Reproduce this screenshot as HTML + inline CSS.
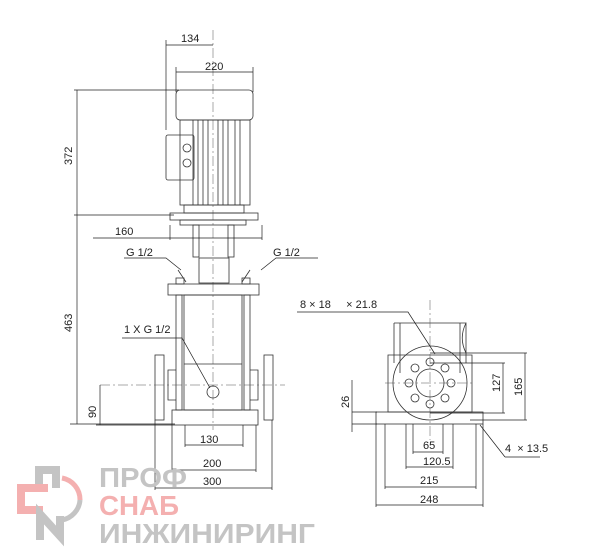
<!DOCTYPE html>
<html><head><meta charset="utf-8"><style>
html,body{margin:0;padding:0;background:#fff;width:600px;height:559px;overflow:hidden}
svg{display:block}
text{font-family:"Liberation Sans",sans-serif;font-size:11px;fill:#222}
.l{stroke:#333;stroke-width:0.8;fill:none}
.d{stroke:#222;stroke-width:0.7;fill:none}
.c{stroke:#555;stroke-width:0.5;stroke-dasharray:10 3 2 3;fill:none}
</style></head><body>
<svg width="600" height="559" viewBox="0 0 600 559">
<line class="c" x1="213" y1="30" x2="213" y2="430"/>
<rect class="l" x="176" y="90" width="77" height="30" rx="4"/>
<rect class="l" x="180" y="120" width="70" height="85"/>
<line class="l" x1="193" y1="120" x2="193" y2="205"/><line class="l" x1="240" y1="120" x2="240" y2="205"/>
<line class="l" x1="198" y1="120" x2="198" y2="205"/><line class="l" x1="203" y1="120" x2="203" y2="205"/>
<line class="l" x1="208" y1="120" x2="208" y2="205"/><line class="l" x1="218" y1="120" x2="218" y2="205"/>
<line class="l" x1="223" y1="120" x2="223" y2="205"/><line class="l" x1="228" y1="120" x2="228" y2="205"/>
<line class="l" x1="235" y1="120" x2="235" y2="205"/>
<rect class="l" x="166" y="135" width="28" height="45" rx="2"/>
<circle class="l" cx="187" cy="148" r="4"/><circle class="l" cx="187" cy="163" r="4"/>
<rect class="l" x="184" y="205" width="60" height="8"/>
<rect class="l" x="170" y="213" width="88" height="7"/>
<rect class="l" x="180" y="220" width="66" height="5"/>
<rect class="l" x="193" y="225" width="6" height="32"/><rect class="l" x="228" y="225" width="6" height="32"/>
<rect class="l" x="199" y="258" width="30" height="25"/>
<path class="l" d="M178 270l8 12M250 270l-8 12"/>
<rect class="l" x="176" y="278" width="8" height="6"/><rect class="l" x="242" y="278" width="8" height="6"/>
<rect class="l" x="168" y="284" width="91" height="11"/>
<rect class="l" x="176" y="295" width="6" height="115"/><rect class="l" x="244" y="295" width="6" height="115"/>
<rect class="l" x="184" y="295" width="58" height="115"/>
<line class="l" x1="184" y1="364" x2="242" y2="364"/>
<path class="l" d="M176 370h-8v30h8M250 370h8v30h-8"/>
<rect class="l" x="155" y="355" width="9" height="65"/><rect class="l" x="264" y="355" width="9" height="65"/>
<rect class="l" x="172" y="410" width="86" height="15"/>
<circle class="l" cx="213" cy="392" r="6"/>
<line class="c" x1="100" y1="385" x2="285" y2="385"/>
<path class="d" d="M166 45h47M166 40v90M176 72h77M176 67v25M253 67v25"/>
<text x="181" y="42">134</text><text x="205" y="70">220</text>
<path class="d" d="M77 90v334M74 90h105M74 215h100M70 424h105"/>
<text transform="translate(72 165) rotate(-90)">372</text>
<text transform="translate(72 332) rotate(-90)">463</text>
<path class="d" d="M93 238h169M170 225v15M262 225v15"/><text x="115" y="235">160</text>
<path class="d" d="M100 385v40M96 425h76"/><text transform="translate(96 418) rotate(-90)">90</text>
<text x="126" y="256">G 1/2</text><text x="273" y="256">G 1/2</text>
<path class="d" d="M124 258h42l15 12M318 258h-42l-15 12"/>
<text x="124" y="333">1 X G 1/2</text>
<path class="d" d="M122 338h60l28 50"/>
<path class="d" d="M185 425v22M243 425v22M172 425v47M256 425v47M155 420v70M272 420v70M185 445h58M172 470h84M155 488h117"/>
<text x="200" y="443">130</text><text x="203" y="467">200</text><text x="203" y="485">300</text>
<path class="l" d="M394 323h72c-5 10-5 20 0 30M394 323v40M466 323v40M400 323v50M460 323v50"/>
<line class="c" x1="430" y1="300" x2="430" y2="440"/>
<path class="l" d="M388 355h84v57h-84z"/>
<circle class="l" cx="430" cy="383" r="37"/>
<circle class="l" cx="430" cy="383" r="14"/>
<g class="l">
<circle cx="430" cy="362" r="4"/><circle cx="430" cy="404" r="4"/><circle cx="409" cy="383" r="4"/><circle cx="451" cy="383" r="4"/>
<circle cx="415" cy="368" r="4"/><circle cx="445" cy="368" r="4"/><circle cx="415" cy="398" r="4"/><circle cx="445" cy="398" r="4"/>
</g>
<rect class="l" x="376" y="412" width="107" height="12"/>
<line class="c" x1="385" y1="383" x2="475" y2="383"/>
<path class="d" d="M430 353h97M430 363h75M430 413h75M470 420h57M525 353v67M503 363v50"/>
<text transform="translate(500 392) rotate(-90)">127</text><text transform="translate(522 396) rotate(-90)">165</text>
<path class="d" d="M352 380v52M352 412h25M352 424h25"/><text transform="translate(349 408) rotate(-90)">26</text>
<path class="d" d="M413 424v30M443 424v30M406 424v45M453 424v45M385 424v65M476 424v65M376 424v83M483 424v83M413 452h30M406 467h47M385 487h91M376 505h107"/>
<text x="423" y="449">65</text><text x="423" y="465">120.5</text><text x="420" y="484">215</text><text x="420" y="503">248</text>
<text x="300" y="308">8 × 18 &#160;&#160;&#160;&#160;× 21.8</text>
<path class="d" d="M297 312h111l27 42"/>
<text x="505" y="452">4 &#160;× 13.5</text>
<path class="d" d="M505 457h35M505 457l-25 -32"/>
<!-- LOGO -->
<path d="M39 490v-20h17v18" stroke="#c4c4c4" stroke-width="8" fill="none"/>
<path d="M48 488h-27v22h22" stroke="#f4b0b0" stroke-width="8" fill="none"/>
<path d="M40 540v-26l20 22v-20" stroke="#c4c4c4" stroke-width="8" fill="none"/>
<path d="M62 478a22 22 0 0 1 18 22" stroke="#f4b0b0" stroke-width="5" fill="none"/>
<path d="M62 520a22 22 0 0 0 18 -20" stroke="#c4c4c4" stroke-width="5" fill="none"/>
<text x="99" y="487" style="font-size:28px;font-weight:bold;fill:#c4c4c4" textLength="88" lengthAdjust="spacingAndGlyphs">ПРОФ</text>
<text x="99" y="515" style="font-size:28px;font-weight:bold;fill:#f4b0b0" textLength="80" lengthAdjust="spacingAndGlyphs">СНАБ</text>
<text x="99" y="543" style="font-size:28px;font-weight:bold;fill:#c4c4c4" textLength="216" lengthAdjust="spacingAndGlyphs">ИНЖИНИРИНГ</text>
</svg>
</body></html>
